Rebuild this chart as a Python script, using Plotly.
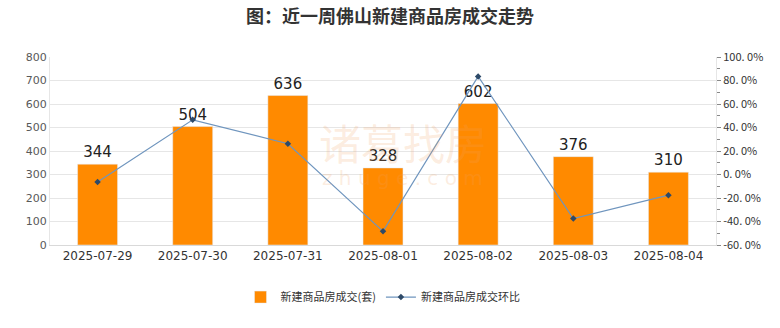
import plotly.graph_objects as go

dates = ["2025-07-29", "2025-07-30", "2025-07-31", "2025-08-01", "2025-08-02", "2025-08-03", "2025-08-04"]
deals = [344, 504, 636, 328, 602, 376, 310]
ratio = [-6.4, 46.5, 26.2, -48.4, 83.5, -37.5, -17.6]
right_ticks = [-60, -40, -20, 0, 20, 40, 60, 80, 100]
right_tick_text = ["-60. 0%", "-40. 0%", "-20. 0%", "0. 0%", "20. 0%", "40. 0%", "60. 0%", "80. 0%", "100. 0%"]

fig = go.Figure()
fig.add_trace(go.Bar(
    x=dates, y=deals, name="新建商品房成交(套)",
    marker=dict(color="#FF8A00"),
    text=[str(v) for v in deals], textposition="outside", cliponaxis=False,
    textfont=dict(size=15, color="#222222", family="DejaVu Sans"),
))
fig.add_trace(go.Scatter(
    x=dates, y=ratio, name="新建商品房成交环比", yaxis="y2",
    mode="lines+markers",
    line=dict(color="#6F95BE", width=1.2),
    marker=dict(symbol="diamond", size=5, color="#2E4A68"),
))

fig.add_annotation(text="诸葛找房", xref="paper", yref="paper", x=0.53, y=0.55,
                   showarrow=False, font=dict(size=42, color="rgba(240,160,100,0.2)", family="Noto Sans CJK SC"))
fig.add_annotation(text="z h u g e . c o m", xref="paper", yref="paper", x=0.53, y=0.28,
                   showarrow=False, font=dict(size=20, color="rgba(240,160,100,0.2)", family="DejaVu Sans"))

fig.update_layout(
    width=780, height=328,
    margin=dict(l=50, r=64, t=57, b=83),
    paper_bgcolor="white", plot_bgcolor="white",
    title=dict(text="<b>图：近一周佛山新建商品房成交走势</b>", x=0.5, xanchor="center", y=0.95, yanchor="middle",
               font=dict(size=18, color="#333333", family="Noto Sans CJK SC")),
    bargap=0.58,
    showlegend=True,
    legend=dict(orientation="h", x=0.5, xanchor="center", y=-0.2, yanchor="top",
                font=dict(size=11, color="#333333", family="Noto Sans CJK SC")),
    xaxis=dict(type="category", tickfont=dict(size=12, color="#333333", family="DejaVu Sans"),
               showline=True, linecolor="#D9D9D9", ticks=""),
    yaxis=dict(range=[0, 800], dtick=100, gridcolor="#E6E6E6", showline=True, linecolor="#E6E6E6",
               tickfont=dict(size=11, color="#595959", family="DejaVu Sans"), zeroline=False),
    yaxis2=dict(overlaying="y", side="right", range=[-60, 100], tickvals=right_ticks, ticktext=right_tick_text,
                showgrid=False, zeroline=False, showline=True, linecolor="#E6E6E6",
                ticks="outside", ticklen=4, tickcolor="#888888",
                minor=dict(ticks="outside", ticklen=3, tickcolor="#888888", dtick=10),
                tickfont=dict(size=11, color="#333333", family="Noto Sans CJK SC")),
)
fig.write_html("out.html")
